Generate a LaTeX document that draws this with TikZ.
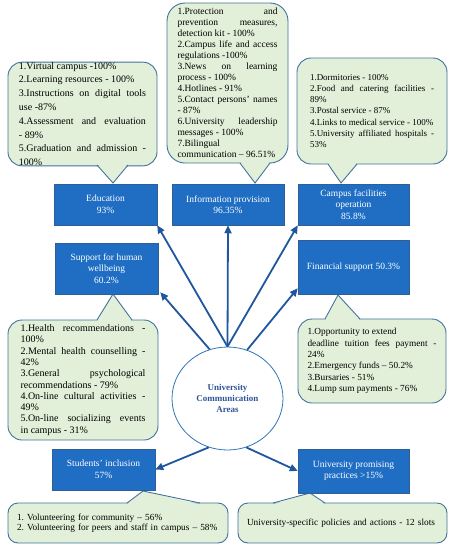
\documentclass[tikz,border=0pt]{standalone}
\usepackage{fontspec}
\setmainfont{Liberation Serif}
\usetikzlibrary{arrows.meta,shapes.geometric}
\definecolor{boxfill}{RGB}{31,110,196}
\definecolor{boxline}{RGB}{47,95,149}
\definecolor{arrcol}{RGB}{31,86,158}
\definecolor{cfill}{RGB}{226,240,217}
\definecolor{cline}{RGB}{65,113,156}
\definecolor{ellline}{RGB}{46,117,182}
\definecolor{elltext}{RGB}{47,85,151}
\hyphenpenalty=10000
\exhyphenpenalty=10000
\tolerance=10000
\hbadness=10000
\frenchspacing
\begin{document}
\begin{tikzpicture}[x=1pt,y=-1pt,
  cbox/.style={draw=cline, fill=cfill, line width=0.9pt, rounded corners=14pt, inner ysep=0pt, align=justify, text=black},
  area/.style={draw=boxline, line width=0.5pt, fill=boxfill, text=white, font=\fontsize{9.5}{11.5}\selectfont, align=center, inner sep=0pt},
  arr/.style={draw=arrcol, line width=1.8pt, -{Triangle[length=8pt,width=7pt]}},
  ptrfill/.style={fill=cfill},
  ptrline/.style={draw=cline, line width=0.9pt, line join=miter}]
\useasboundingbox (0,0) rectangle (457,550);

% callout boxes
\node[cbox, text width=127pt, inner xsep=11pt, minimum height=102pt, font=\fontsize{10}{13.8}\selectfont\frenchspacing] (edc) at (82.5,114) {%
1.Virtual campus -100\%\par
2.Learning resources - 100\%\par
3.Instructions on digital tools\linebreak use -87\%\par
4.Assessment and evaluation\linebreak - 89\%\par
5.Graduation and admission -\linebreak 100\%};

\node[cbox, rounded corners=18pt, text width=100pt, inner xsep=10.5pt, minimum height=160pt, font=\fontsize{9.5}{11}\selectfont\frenchspacing] (inc) at (227.5,83) {%
1.Protection and\linebreak prevention measures,\linebreak detection kit - 100\%\par
2.Campus life and access\linebreak regulations -100\%\par
3.News on learning\linebreak process - 100\%\par
4.Hotlines - 91\%\par
5.Contact persons' names\linebreak - 87\%\par
6.University leadership\linebreak messages - 100\%\par
7.Bilingual\linebreak communication – 96.51\%};

\node[cbox, text width=124pt, inner xsep=13pt, minimum height=106pt, font=\fontsize{9}{11.3}\selectfont\frenchspacing] (cac) at (372,111) {%
1.Dormitories - 100\%\par
2.Food and catering facilities -\linebreak 89\%\par
3.Postal service - 87\%\par
4.Links to medical service - 100\%\par
5.University affiliated hospitals -\linebreak 53\%};

\node[cbox, text width=125pt, inner xsep=12.5pt, minimum height=120pt, font=\fontsize{10}{11.3}\selectfont\frenchspacing] (suc) at (83,380) {%
1.Health recommendations -\linebreak 100\%\par
2.Mental health counselling -\linebreak 42\%\par
3.General psychological\linebreak recommendations - 79\%\par
4.On-line cultural activities -\linebreak 49\%\par
5.On-line socializing events\linebreak in campus - 31\%};

\node[cbox, text width=129pt, inner xsep=9.5pt, minimum height=84pt, font=\fontsize{9.3}{11.3}\selectfont\frenchspacing] (fic) at (372,361) {%
1.Opportunity to extend\newline deadline tuition fees payment -\linebreak 24\%\par
2.Emergency funds – 50.2\%\par
3.Bursaries - 51\%\par
4.Lump sum payments - 76\%};

\node[cbox, rounded corners=10pt, align=left, text width=202pt, inner xsep=9pt, minimum height=40pt, font=\fontsize{9.3}{10.5}\selectfont\frenchspacing] (stc) at (118,523) {%
1. Volunteering for community – 56\%\\
2. Volunteering for peers and staff in campus – 58\%};

\node[cbox, rounded corners=10pt, align=left, text width=191pt, inner xsep=9pt, minimum height=40pt, font=\fontsize{9.3}{10.5}\selectfont\frenchspacing] (prc) at (342.5,523) {%
University-specific policies and actions - 12 slots};

% pointers (bottom)
\fill[ptrfill] (97,163.5) -- (113,183) -- (128,163.5) -- cycle;
\draw[ptrline] (97,165) -- (113,183) -- (128,165);
\fill[ptrfill] (240,161.5) -- (255,183) -- (270,161.5) -- cycle;
\draw[ptrline] (240,163) -- (255,183) -- (270,163);
\fill[ptrfill] (328,162.5) -- (341,183) -- (357,162.5) -- cycle;
\draw[ptrline] (328,164) -- (341,183) -- (357,164);
% pointers (top)
\fill[ptrfill] (97,321.5) -- (113,294) -- (132,321.5) -- cycle;
\draw[ptrline] (97,320) -- (113,294) -- (132,320);
\fill[ptrfill] (325,320.5) -- (338,295) -- (360,320.5) -- cycle;
\draw[ptrline] (325,319) -- (338,295) -- (360,319);
\fill[ptrfill] (127,504.5) -- (143,491) -- (200,504.5) -- cycle;
\draw[ptrline] (127,503) -- (143,491) -- (200,503);
\fill[ptrfill] (273,504.5) -- (310,493) -- (325,504.5) -- cycle;
\draw[ptrline] (273,503) -- (310,493) -- (325,503);

% area boxes
\node[area, minimum width=103pt, minimum height=41pt] (edu) at (105.5,204.5) {Education\\93\%};
\node[area, minimum width=112pt, minimum height=41pt] (info) at (228,204.5) {Information provision\\96.35\%};
\node[area, minimum width=111pt, minimum height=41pt] (camp) at (353.5,204.5) {Campus facilities\\operation\\85.8\%};
\node[area, minimum width=103pt, minimum height=51pt] (sup) at (106.5,268.5) {Support for human\\wellbeing\\60.2\%};
\node[area, minimum width=111pt, minimum height=54pt] (fin) at (353.5,267) {Financial support 50.3\%};
\node[area, minimum width=103pt, minimum height=41pt] (stu) at (103.5,469.5) {Students' inclusion\\57\%};
\node[area, minimum width=111pt, minimum height=44pt] (prom) at (353.5,471) {University promising\\practices >15\%};

% centre
\node[ellipse, draw=ellline, line width=0.8pt, fill=white, minimum width=111pt, minimum height=103pt, inner sep=0pt, align=center, text=elltext, font=\fontsize{9}{11}\selectfont\bfseries] (uca) at (227.5,398.5) {University\\Communication\\Areas};

% arrows
\draw[arr] (uca.north) -- (edu.south east);
\draw[arr] (uca.north) -- (info.south);
\draw[arr] (uca.north) -- (camp.south west);
\draw[arr] (uca.110) -- ([shift={(2pt,2pt)}]sup.south east);
\draw[arr] (uca.68) -- ([yshift=6pt]fin.south west);
\draw[arr] (uca.249) -- (stu.east);
\draw[arr] (uca.291) -- (prom.west);
\end{tikzpicture}
\end{document}
